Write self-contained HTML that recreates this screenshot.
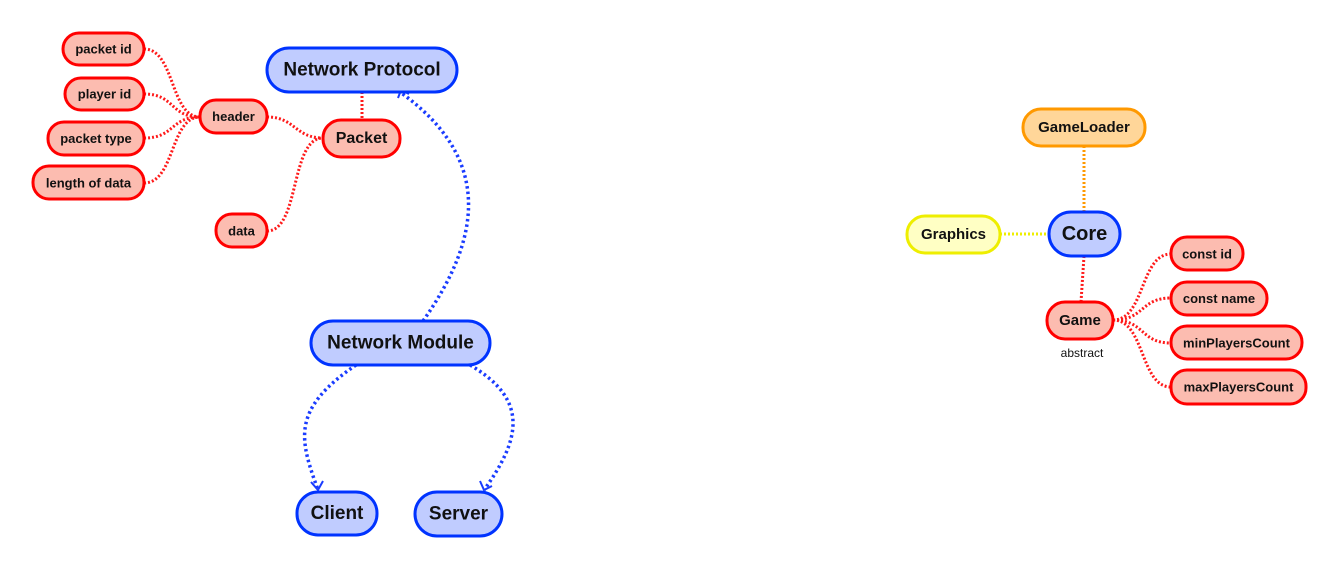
<!DOCTYPE html>
<html><head><meta charset="utf-8"><style>
html,body{margin:0;padding:0;background:#fff;width:1339px;height:569px;overflow:hidden}
text{font-family:"Liberation Sans",Arial,sans-serif;font-weight:bold;fill:#111;text-anchor:middle;dominant-baseline:central}
.r{fill:#fcbcb0;stroke:#ff0000;stroke-width:3}
.b{fill:#c0ccff;stroke:#0033ff;stroke-width:3}
.rl{fill:none;stroke:#ff1a1a;stroke-width:3;stroke-dasharray:2 2}
.bl{fill:none;stroke:#1a3cff;stroke-width:3.5;stroke-dasharray:2.5 3}
</style></head><body>
<svg width="1339" height="569" xmlns="http://www.w3.org/2000/svg">
<path class="rl" d="M144 49 C175 49,170 117,200 117"/>
<path class="rl" d="M144 94 C175 94,170 117,200 117"/>
<path class="rl" d="M144 138 C175 138,170 117,200 117"/>
<path class="rl" d="M144 183 C175 183,170 117,200 117"/>
<path class="rl" d="M267 117 C295 117,295 138,323 138"/>
<path class="rl" d="M267 231 C300 231,290 138,323 138"/>
<path class="rl" d="M362 92 L362 120"/>
<path class="bl" d="M423 321 C480 240,495 160,400 92"/>
<path d="M398 98 L401 90 L409 94" fill="none" stroke="#1a3cff" stroke-width="2"/>
<path class="bl" d="M356 365 C290 410,300 440,318 490"/>
<path d="M311 482 L318 490 L323 481" fill="none" stroke="#1a3cff" stroke-width="2"/>
<path class="bl" d="M470 365 C530 400,520 440,484 490"/>
<path d="M480 481 L484 490 L492 486" fill="none" stroke="#1a3cff" stroke-width="2"/>
<rect class="r" x="63" y="33" width="81" height="32" rx="16"/><text x="103.5" y="49" font-size="13">packet id</text>
<rect class="r" x="65" y="78" width="79" height="32" rx="16"/><text x="104.5" y="94" font-size="13">player id</text>
<rect class="r" x="48" y="122" width="96" height="33" rx="16"/><text x="96" y="138.5" font-size="13">packet type</text>
<rect class="r" x="33" y="166" width="111" height="33" rx="16"/><text x="88.5" y="183" font-size="13">length of data</text>
<rect class="r" x="200" y="100" width="67" height="33" rx="16"/><text x="233.5" y="116.5" font-size="13">header</text>
<rect class="r" x="323" y="120" width="77" height="37" rx="18"/><text x="361.5" y="138.5" font-size="16">Packet</text>
<rect class="r" x="216" y="214" width="51" height="33" rx="16"/><text x="241.5" y="231" font-size="13">data</text>
<rect class="b" x="267" y="48" width="190" height="44" rx="22"/><text x="362" y="70" font-size="19">Network Protocol</text>
<rect class="b" x="311" y="321" width="179" height="44" rx="22"/><text x="400.5" y="343" font-size="19">Network Module</text>
<rect class="b" x="297" y="492" width="80" height="43" rx="21"/><text x="337" y="513.5" font-size="19">Client</text>
<rect class="b" x="415" y="492" width="87" height="44" rx="22"/><text x="458.5" y="514" font-size="19">Server</text>
<path d="M1084 146 L1084 212" stroke="#ff9900" stroke-width="3" stroke-dasharray="2 2"/>
<path d="M1000 234 L1049 234" stroke="#eeee00" stroke-width="3" stroke-dasharray="2 2"/>
<path class="rl" d="M1084 256 L1081 302"/>
<path class="rl" d="M1113 320 C1145 320,1140 254,1171 254"/>
<path class="rl" d="M1113 320 C1145 320,1140 298,1171 298"/>
<path class="rl" d="M1113 320 C1145 320,1140 343,1171 343"/>
<path class="rl" d="M1113 320 C1145 320,1140 387,1171 387"/>
<rect x="1023" y="109" width="122" height="37" rx="18" fill="#ffd699" stroke="#ff9900" stroke-width="3"/><text x="1084" y="127.5" font-size="15">GameLoader</text>
<rect x="907" y="216" width="93" height="37" rx="18" fill="#ffffc4" stroke="#eeee00" stroke-width="3"/><text x="953.5" y="234.5" font-size="15">Graphics</text>
<rect class="b" x="1049" y="212" width="71" height="44" rx="22"/><text x="1084.5" y="234" font-size="20">Core</text>
<rect class="r" x="1047" y="302" width="66" height="37" rx="18"/><text x="1080" y="320.5" font-size="15">Game</text>
<text x="1082" y="353" font-size="12" style="font-weight:normal">abstract</text>
<rect class="r" x="1171" y="237" width="72" height="33" rx="16"/><text x="1207" y="254" font-size="13">const id</text>
<rect class="r" x="1171" y="282" width="96" height="33" rx="16"/><text x="1219" y="298.5" font-size="13">const name</text>
<rect class="r" x="1171" y="326" width="131" height="33" rx="16"/><text x="1236.5" y="343" font-size="13">minPlayersCount</text>
<rect class="r" x="1171" y="370" width="135" height="34" rx="16"/><text x="1238.5" y="387" font-size="13">maxPlayersCount</text>
</svg>
</body></html>
